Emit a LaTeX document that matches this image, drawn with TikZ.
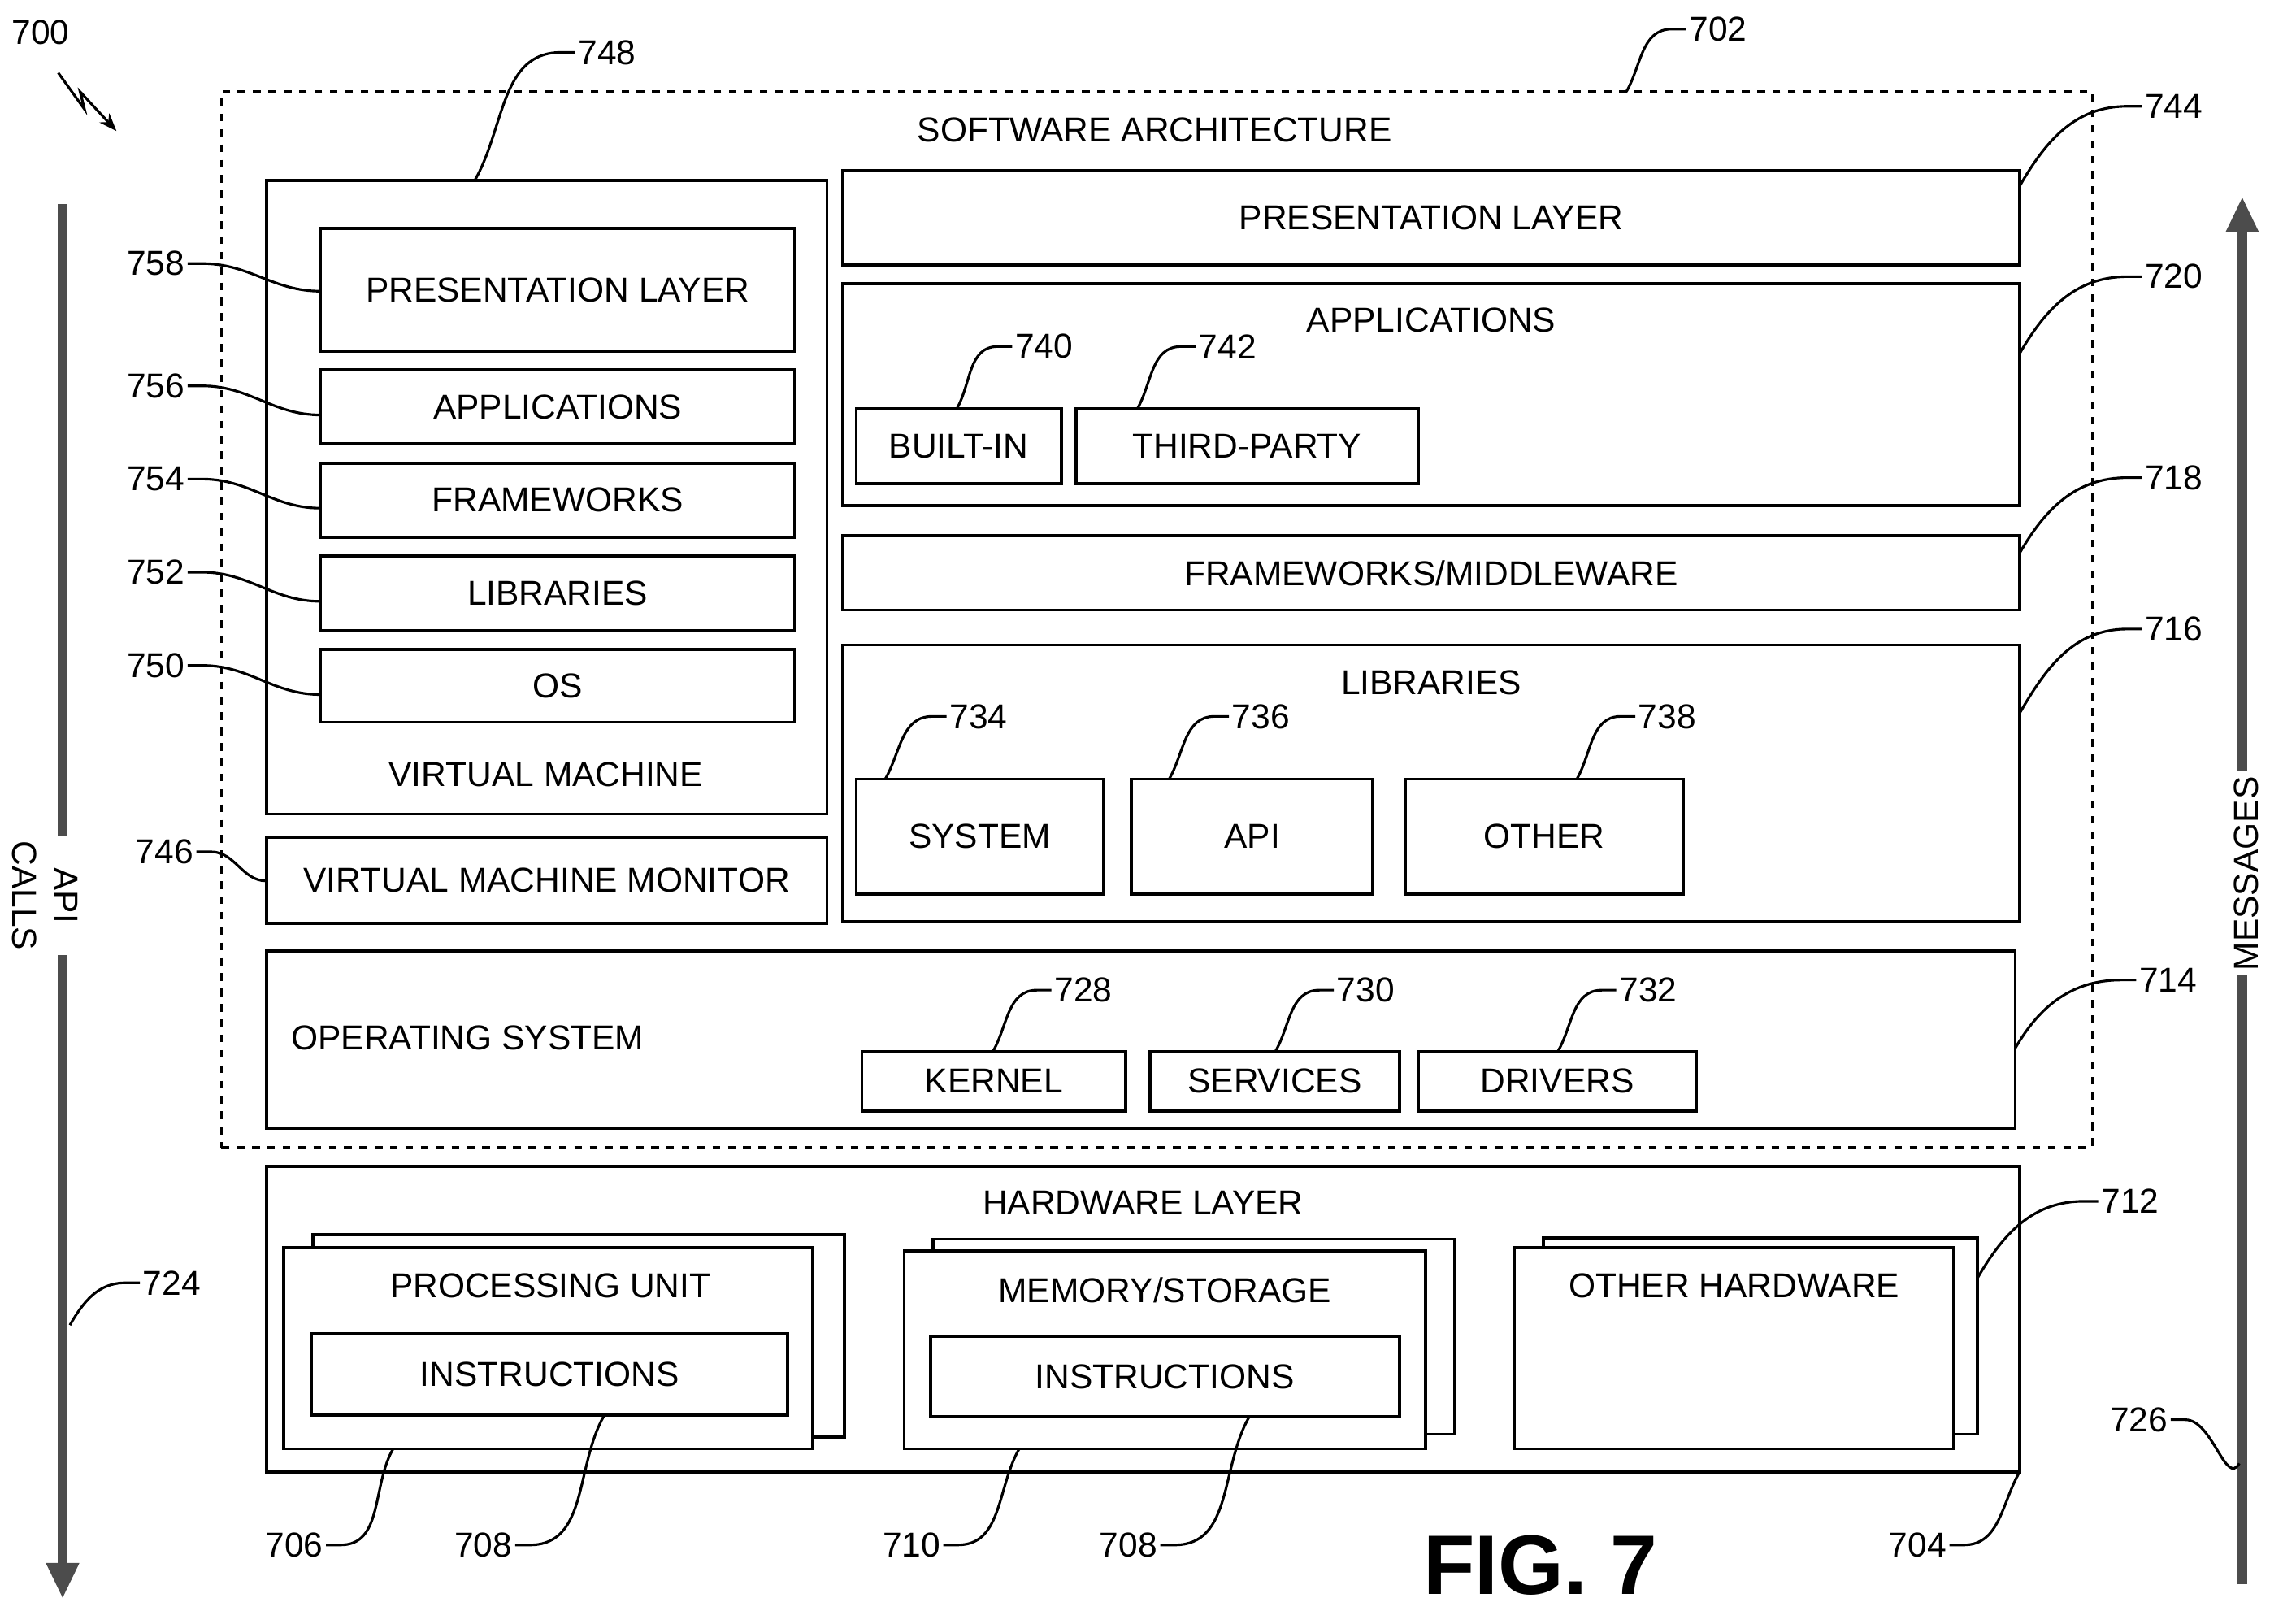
\documentclass[tikz,border=0pt]{standalone}
\usepackage{fontspec}
\setmainfont{Liberation Sans}
\usetikzlibrary{fit,arrows.meta}
\begin{document}
\begin{tikzpicture}[x=0.02cm,y=0.02cm,
 box/.style={draw,line width=1.2pt,inner sep=0pt,fill=white},
 bt/.style={label={[t]center:#1}},
 t/.style={font=\fontsize{13.5}{16}\selectfont,inner sep=1pt},
 lead/.style={line width=1pt},
 big/.style={-{Triangle[length=14pt,width=12pt]},line width=4pt,gray!60!black}]
\useasboundingbox (0,0) rectangle (1568,1115);
% outer dashed
\node[draw,dashed,line width=1pt,inner sep=0pt,fit={(152,1052)(1437,327)}] (sa) {};
\node[t] (satxt) at (793,1026) {SOFTWARE ARCHITECTURE};
% VM
\node[box,fit={(183,991)(568,556)}] (vm) {};
\node[box,bt=PRESENTATION LAYER,fit={(220,958)(546,874)}] (vp) {};
\node[box,bt=APPLICATIONS,fit={(220,861)(546,810)}] (va) {};
\node[box,bt=FRAMEWORKS,fit={(220,797)(546,746)}] (vf) {};
\node[box,bt=LIBRARIES,fit={(220,733)(546,682)}] (vl) {};
\node[box,bt=OS,fit={(220,669)(546,619)}] (vo) {};
\node[t] (vmt) at (375,583) {VIRTUAL MACHINE};
\node[box,bt=VIRTUAL MACHINE MONITOR,fit={(183,540)(568,481)}] (vmm) {};
% right stack
\node[box,bt=PRESENTATION LAYER,fit={(579,998)(1387,933)}] (pl) {};
\node[box,fit={(579,920)(1387,768)}] (ap) {};
\node[t] (apt) at (983,895) {APPLICATIONS};
\node[box,bt=BUILT-IN,fit={(588,834)(729,783)}] (bi) {};
\node[box,bt=THIRD-PARTY,fit={(739,834)(974,783)}] (tp) {};
\node[box,bt=FRAMEWORKS/MIDDLEWARE,fit={(579,747)(1387,696)}] (fw) {};
\node[box,fit={(579,672)(1387,482)}] (lib) {};
\node[t] (libt) at (983,646) {LIBRARIES};
\node[box,bt=SYSTEM,fit={(588,580)(758,501)}] (sys) {};
\node[box,bt=API,fit={(777,580)(943,501)}] (api) {};
\node[box,bt=OTHER,fit={(965,580)(1156,501)}] (oth) {};
% OS
\node[box,fit={(183,462)(1384,340)}] (os) {};
\node[t,anchor=west] (ost) at (198,402) {OPERATING SYSTEM};
\node[box,bt=KERNEL,fit={(592,393)(773,352)}] (ker) {};
\node[box,bt=SERVICES,fit={(790,393)(961,352)}] (ser) {};
\node[box,bt=DRIVERS,fit={(974,393)(1165,352)}] (drv) {};
% hardware
\node[box,fit={(183,314)(1387,104)}] (hw) {};
\node[t] (hwt) at (785,289) {HARDWARE LAYER};
\node[box,fit={(215,267)(580,128)}] (pub) {};
\node[box,fit={(195,258)(558,120)}] (pu) {};
\node[t] (put) at (378,232) {PROCESSING UNIT};
\node[box,bt=INSTRUCTIONS,fit={(214,199)(541,143)}] (ins1) {};
\node[box,fit={(641,264)(999,130)}] (meb) {};
\node[box,fit={(621,256)(979,120)}] (me) {};
\node[t] (met) at (800,229) {MEMORY/STORAGE};
\node[box,bt=INSTRUCTIONS,fit={(639,197)(961,142)}] (ins2) {};
\node[box,fit={(1060,265)(1358,130)}] (ohb) {};
\node[box,fit={(1040,258)(1342,120)}] (oh) {};
\node[t] (oht) at (1191,232) {OTHER HARDWARE};
% big arrows
\coordinate (la1) at (43,975); \coordinate (la2) at (43,17);
\draw[big] (la1) -- (la2);
\node[t,rotate=-90,align=center,fill=white,inner sep=2pt] (apic) at (31,500) {API\\CALLS};
\coordinate (ra1) at (1540,27); \coordinate (ra2) at (1540,980);
\draw[big] (ra1) -- (ra2);
\node[t,rotate=90,fill=white,inner sep=2pt] (msg) at (1543,515) {MESSAGES};
\node[font=\fontsize{33}{38}\selectfont\bfseries] (fig) at (1058,40) {FIG. 7};
% labels
\node[t] (l700) at (28,1093) {700};
\coordinate (c700a) at (40,1065); \coordinate (c700b) at (80,1025);
\draw[lead,-{Stealth[length=7pt]}] (c700a) -- (58,1040) -- (55,1052) -- (c700b);
\foreach \n/\x/\y/\tx/\ty in {702/1180/1095/1117/1052, 748/417/1079/326/991, 744/1493/1042/1387/987,
  720/1493/925/1387/872, 718/1493/787/1387/735, 716/1493/683/1387/625, 714/1489/442/1384/395,
  712/1463/290/1358/237, 740/717/877/657/834, 742/843/877/781/834, 734/672/623/608/580,
  736/866/623/803/580, 738/1145/623/1083/580, 728/744/435/682/393, 730/938/435/876/393,
  732/1132/435/1070/393, 724/118/234/48/205}{
  \node[t] (l\n) at (\x,\y) {\n};
  \coordinate (t\n) at (\tx,\ty);
  \draw[lead] (l\n.west) -- ++(-10,0) to[out=180,in=60] (t\n);
}
\foreach \n/\x/\y/\tx/\ty in {758/107/934/220/915, 756/107/850/220/830, 754/107/786/220/766,
  752/107/722/220/702, 750/107/658/220/638, 746/113/530/183/510}{
  \node[t] (l\n) at (\x,\y) {\n};
  \coordinate (t\n) at (\tx,\ty);
  \draw[lead] (l\n.east) -- ++(10,0) to[out=0,in=180] (t\n);
}
\foreach \n/\lab/\x/\y/\tx/\ty in {706/706/202/54/270/120, 708a/708/332/54/415/143, 710/710/626/54/700/120,
  708b/708/775/54/858/142, 704/704/1317/54/1387/104, 726/726/1469/140/1538/110}{
  \node[t] (l\n) at (\x,\y) {\lab};
  \coordinate (t\n) at (\tx,\ty);
  \draw[lead] (l\n.east) -- ++(10,0) to[out=0,in=240] (t\n);
}
\end{tikzpicture}
\end{document}
